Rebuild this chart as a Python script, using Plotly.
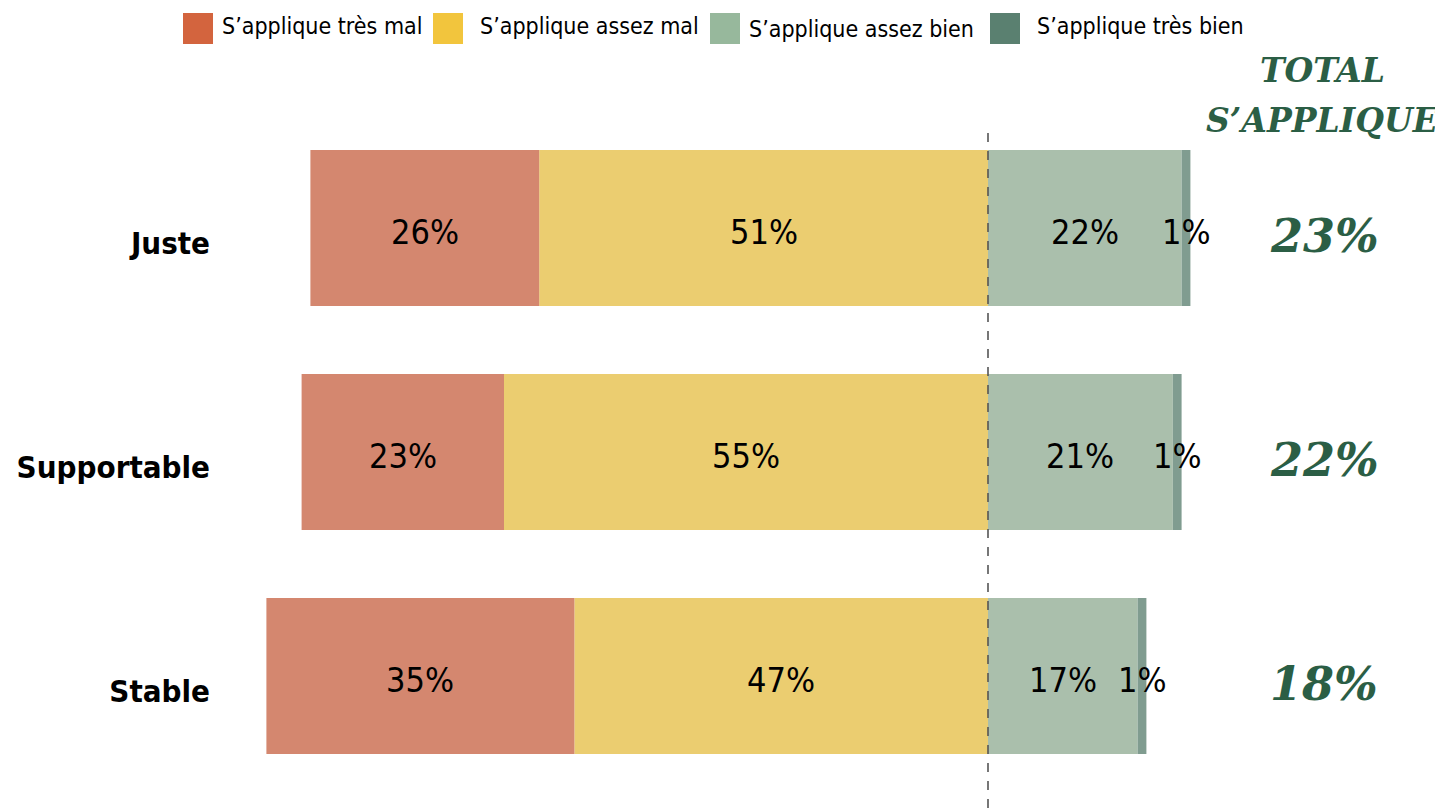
import plotly.graph_objects as go

categories = ["Juste", "Supportable", "Stable"]
tres_mal = [26, 23, 35]
assez_mal = [51, 55, 47]
assez_bien = [22, 21, 17]
tres_bien = [1, 1, 1]
totals = [23, 22, 18]
legend_labels = ["S’applique très mal", "S’applique assez mal", "S’applique assez bien", "S’applique très bien"]
title_lines = ["TOTAL", "S’APPLIQUE"]

OFF = 8  # page body margin
W, H = 1443 - OFF, 808 - OFF
L = 222 - OFF
SCALE = 8.8
ZERO_PX = 988 - OFF

bar_colors = ["#d4876f", "#ebcd70", "#aabfac", "#809c90"]
legend_colors = ["#d3643e", "#f2c53d", "#97b89c", "#5a8070"]
green = "#2b5e45"
sans = "DejaVu Sans Condensed, DejaVu Sans, sans-serif"
label_font = dict(family=sans, size=34, color="#000000")


def px_x(px):
    return (px - OFF - L) / (W - L)


def px_y(py):
    return (H - (py - OFF)) / H


fig = go.Figure()

# diverging stacked bars (relative mode: first trace nearest zero)
fig.add_trace(go.Bar(y=categories, x=[-v for v in assez_mal], orientation="h",
                     marker=dict(color=bar_colors[1], line=dict(width=0)), showlegend=False))
fig.add_trace(go.Bar(y=categories, x=[-v for v in tres_mal], orientation="h",
                     marker=dict(color=bar_colors[0], line=dict(width=0)), showlegend=False))
fig.add_trace(go.Bar(y=categories, x=assez_bien, orientation="h",
                     marker=dict(color=bar_colors[2], line=dict(width=0)), showlegend=False))
fig.add_trace(go.Bar(y=categories, x=tres_bien, orientation="h",
                     marker=dict(color=bar_colors[3], line=dict(width=0)), showlegend=False))

shapes = []
annotations = []

# segment labels
for i, c in enumerate(categories):
    am, tm, ab, tb = assez_mal[i], tres_mal[i], assez_bien[i], tres_bien[i]
    for xv, val in [(-(am + tm / 2), tm), (-am / 2, am), (ab / 2, ab), (ab + tb / 2, tb)]:
        annotations.append(dict(x=xv, y=c, xref="x", yref="y", text=f"{val}%", showarrow=False,
                                xanchor="center", yanchor="middle", yshift=-4, font=label_font))

# totals column
total_x = (1324 - OFF - ZERO_PX) / SCALE
for c, t in zip(categories, totals):
    annotations.append(dict(x=total_x, y=c, xref="x", yref="y", text=f"{t}%", showarrow=False,
                            xanchor="center", yanchor="middle", yshift=-8,
                            font=dict(family="DejaVu Serif, serif", size=46, color=green,
                                      style="italic", weight="bold")))

# dashed zero line
shapes.append(dict(type="line", xref="x", yref="paper", x0=0, x1=0,
                   y0=0, y1=px_y(133), line=dict(color="#555555", width=1.6, dash="dash")))

# manual legend
sq_left = [183, 433, 710, 990]
txt_left = [220, 478, 747, 1035]
txt_y = [26, 26, 29, 26]
for i, lab in enumerate(legend_labels):
    shapes.append(dict(type="rect", xref="paper", yref="paper",
                       x0=px_x(sq_left[i]), x1=px_x(sq_left[i] + 30),
                       y0=px_y(44), y1=px_y(13),
                       fillcolor=legend_colors[i], line=dict(width=0)))
    annotations.append(dict(text=lab, xref="paper", yref="paper", x=px_x(txt_left[i]),
                            y=px_y(txt_y[i]), xanchor="left", yanchor="middle", showarrow=False,
                            font=dict(family=sans, size=23, color="#000000")))

# title of totals column
for line, py in zip(title_lines, [71, 120]):
    annotations.append(dict(text=line, xref="paper", yref="paper", x=px_x(1322), y=px_y(py),
                            xanchor="center", yanchor="middle", showarrow=False,
                            font=dict(family="DejaVu Serif, serif", size=33, color=green,
                                      style="italic", weight="bold")))

x_left = (L - ZERO_PX) / SCALE
x_right = (W - ZERO_PX) / SCALE
unit = 224.0
y_top = -(228 - OFF) / unit
y_bot = 2 + (808 - 676) / unit

fig.update_layout(
    width=W, height=H,
    margin=dict(l=L, r=0, t=0, b=0),
    paper_bgcolor="white", plot_bgcolor="white",
    barmode="relative", bargap=0.3036,
    xaxis=dict(range=[x_left, x_right], visible=False, fixedrange=True),
    yaxis=dict(range=[y_bot, y_top], showgrid=False, zeroline=False, showline=False,
               ticks="", ticklabelstandoff=11, ticklabelshift=-15,
               tickfont=dict(family=sans, size=31, color="#000000", weight="bold"),
               categoryorder="array", categoryarray=categories),
    shapes=shapes, annotations=annotations,
    showlegend=False,
)

fig.write_html("out.html")
